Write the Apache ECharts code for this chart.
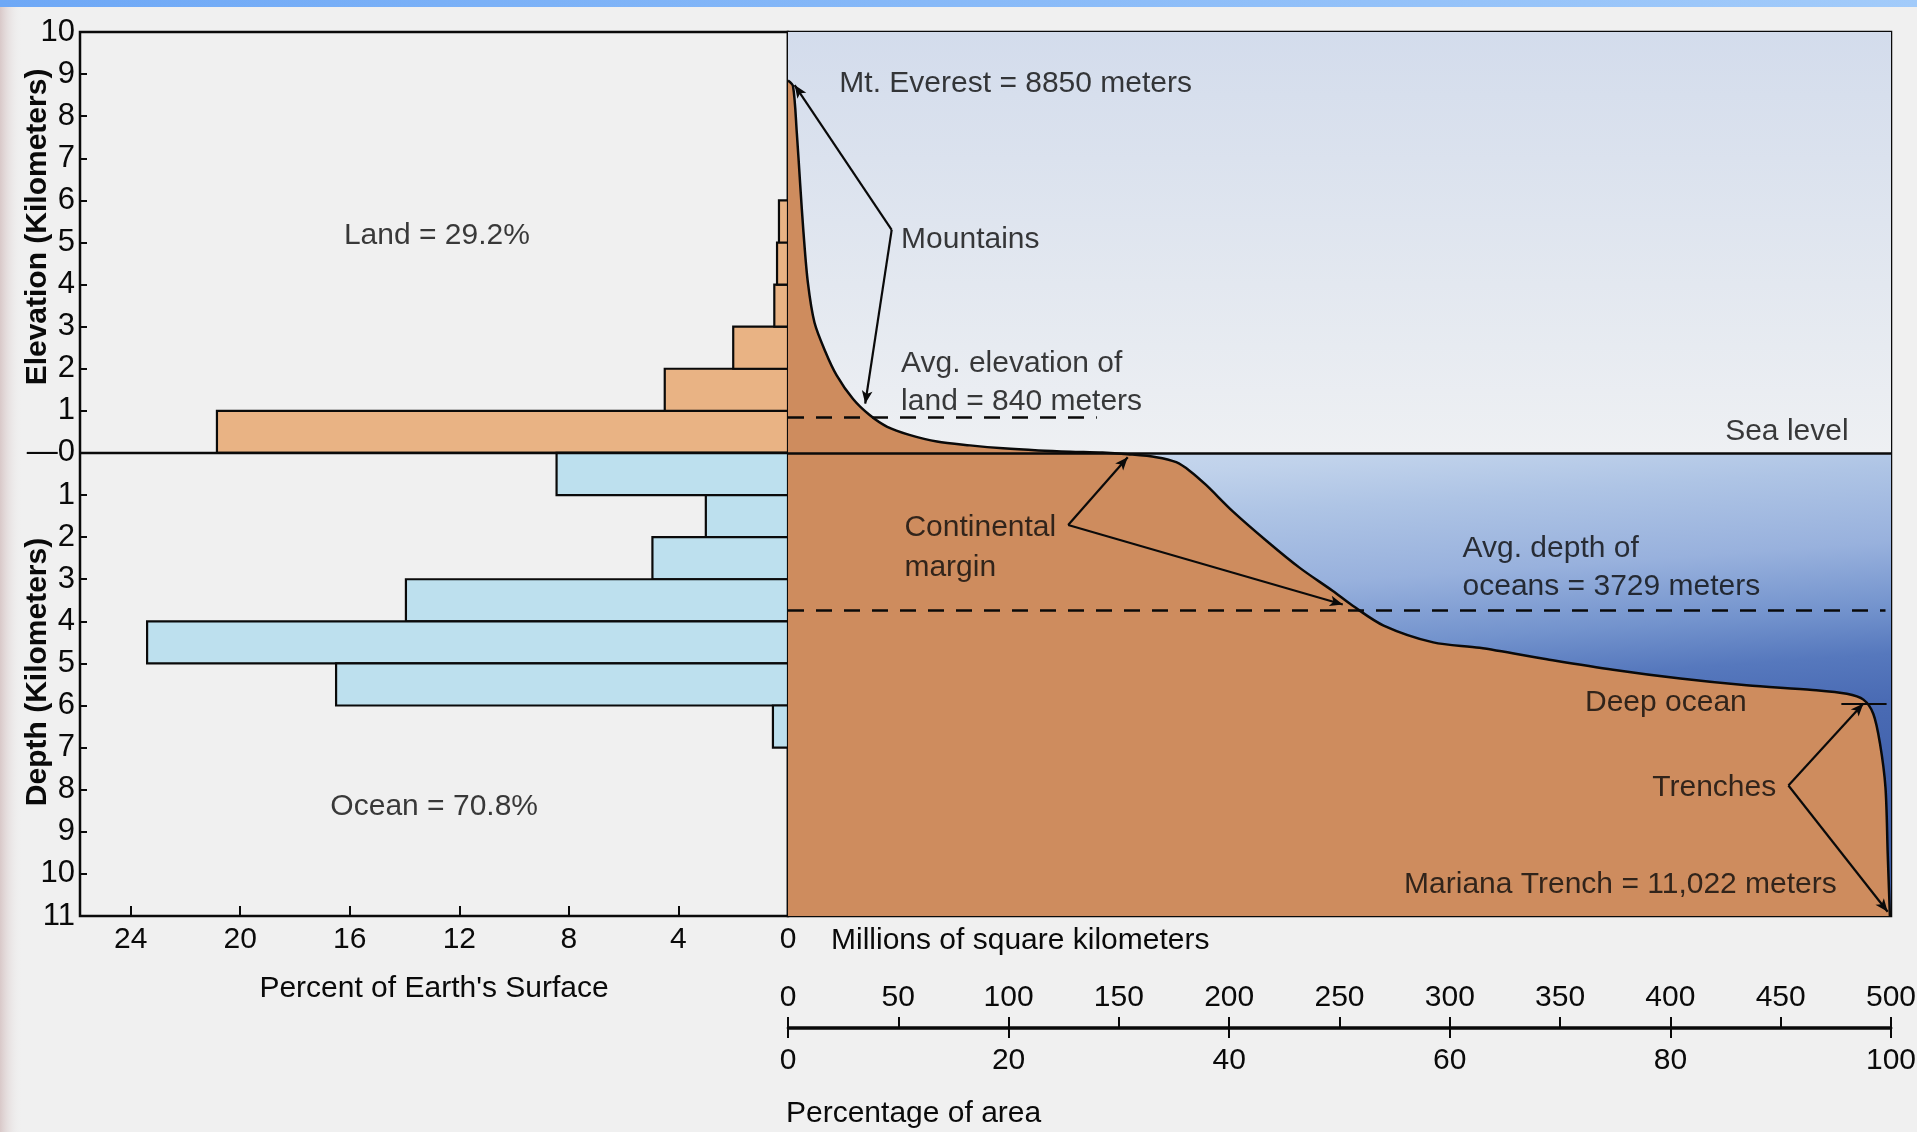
<!DOCTYPE html>
<html>
<head>
<meta charset="utf-8">
<title>Hypsographic curve</title>
<script src="https://cdn.jsdelivr.net/npm/echarts@6.0.0/dist/echarts.min.js"></script>
<style>
  html, body { margin: 0; padding: 0; background: #f0f0f0; }
  #container { width: 1917px; height: 1132px; }
</style>
</head>
<body>
<div id="container"></div>
<script>
  // left histogram: percent of Earth's surface in each 1 km band
  const landBandLow = [0, 1, 2, 3, 4, 5];
  const landPercent = [20.85, 4.5, 2.0, 0.5, 0.4, 0.33];
  const oceanBandLow = [-1, -2, -3, -4, -5, -6, -7];
  const oceanPercent = [8.45, 3.0, 4.95, 13.95, 23.4, 16.5, 0.55];

  // hypsographic curve (percentage of area, km)
  const curvePct = [0, 0.45, 0.8, 1.1, 1.4, 1.8, 2.4, 3.4, 4.4, 5.9, 7.4, 9.0, 11.0, 13.5, 16.5, 19.5, 22.7, 25.6, 28.5, 30.8,
    33.4, 35.2, 36.4, 37.9, 40.3, 43.4, 46.4, 49.4, 51.2, 54.0, 58.5, 62.7, 68.8, 74.8, 80.9, 86.9, 92.9, 96.0, 97.5, 98.4,
    99.0, 99.5, 99.7, 99.9];
  const curveKm = [8.85, 8.72, 7.6, 6.4, 5.25, 4.05, 3.1, 2.4, 1.85, 1.28, 0.9, 0.62, 0.43, 0.27, 0.18, 0.11, 0.06, 0.03, 0.01, -0.03,
    -0.1, -0.22, -0.42, -0.76, -1.38, -2.09, -2.73, -3.28, -3.63, -4.1, -4.5, -4.63, -4.9, -5.15, -5.36, -5.52, -5.63, -5.72, -5.86, -6.2,
    -6.9, -7.95, -9.5, -11.0];

  const avgElevation = 0.84;   // km
  const avgDepth = -3.729;     // km
  const areaTicks = [0, 500];  // millions of km2 scale
  const pctTicks = [0, 100];

  // text notes on the curve panel: [text, x %, y km, align]
  const notes = [
    ['Mt. Everest = 8850 meters', 4.7, 8.75, 'left'],
    ['Mountains', 10.3, 5.06, 'left'],
    ['Avg. elevation of', 10.3, 2.11, 'left'],
    ['land = 840 meters', 10.3, 1.21, 'left'],
    ['Sea level', 96.2, 0.5, 'right'],
    ['Continental', 10.6, -1.8, 'left'],
    ['margin', 10.6, -2.73, 'left'],
    ['Avg. depth of', 61.2, -2.28, 'left'],
    ['oceans = 3729 meters', 61.2, -3.2, 'left'],
    ['Deep ocean', 72.3, -5.95, 'left'],
    ['Trenches', 78.4, -7.97, 'left'],
    ['Mariana Trench = 11,022 meters', 55.9, -10.27, 'left']
  ];
  // pointer lines: [from, to]
  const pointers = [
    [[9.4, 5.3], [0.6, 8.74]],
    [[9.4, 5.3], [7.0, 1.17]],
    [[25.4, -1.71], [30.8, -0.1]],
    [[25.4, -1.71], [50.3, -3.6]],
    [[90.7, -7.9], [97.5, -5.95]],
    [[90.7, -7.9], [99.7, -10.9]]
  ];

  const FONT = '"Liberation Sans", Arial, sans-serif';
  const INK = '#0a0a0a';
  const LEFT_MAX = 25.85;

  let chart = echarts.init(document.getElementById('container'));

  function bandRect(fill) {
    return function (params, api) {
      let a = api.coord([0, api.value(2)]);
      let b = api.coord([api.value(0), api.value(1)]);
      return {
        type: 'rect',
        shape: {
          x: Math.min(a[0], b[0]), y: Math.min(a[1], b[1]),
          width: Math.abs(a[0] - b[0]), height: Math.abs(a[1] - b[1])
        },
        style: { fill: fill, stroke: INK, lineWidth: 2.2 }
      };
    };
  }

  let curveData = curvePct.map((p, i) => [p, curveKm[i]]);
  let landData = landBandLow.map((lo, i) => [landPercent[i], lo, lo + 1]);
  let oceanData = oceanBandLow.map((lo, i) => [oceanPercent[i], lo, lo + 1]);

  let pointerLines = pointers.map(p => [{ coord: p[0] }, { coord: p[1] }]);

  let option = {
    animation: false,
    backgroundColor: '#f0f0f0',
    textStyle: { fontFamily: FONT },
    grid: [
      { left: 80, top: 32, width: 708, height: 884, show: true, borderColor: INK, borderWidth: 2.5,
        backgroundColor: 'transparent', outerBoundsMode: 'none' },
      { left: 788, top: 32, width: 1103, height: 884, show: true, borderColor: INK, borderWidth: 2.5,
        backgroundColor: 'transparent', outerBoundsMode: 'none' },
      { left: 788, top: 1027, width: 1103, height: 1, outerBoundsMode: 'none' }
    ],
    xAxis: [
      {
        gridIndex: 0, type: 'value', min: 0, max: LEFT_MAX, interval: 4, inverse: true, position: 'bottom',
        name: "Percent of Earth's Surface", nameLocation: 'middle', nameGap: 58,
        nameTextStyle: { fontFamily: FONT, fontSize: 30, color: INK },
        axisLine: { show: false, onZero: false },
        axisTick: { inside: true, length: 10, lineStyle: { color: INK, width: 2 } },
        axisLabel: { showMaxLabel: false, margin: 9, fontFamily: FONT, fontSize: 30, color: INK },
        splitLine: { show: false }
      },
      {
        gridIndex: 1, type: 'value', min: 0, max: 100, position: 'bottom',
        axisLine: { show: false, onZero: false }, axisTick: { show: false }, axisLabel: { show: false },
        splitLine: { show: false }
      },
      {
        gridIndex: 2, type: 'value', min: areaTicks[0], max: areaTicks[1], interval: 50, position: 'top',
        axisLine: { show: true, onZero: false, lineStyle: { color: INK, width: 2.5 } },
        axisTick: { length: 10, lineStyle: { color: INK, width: 2 } },
        axisLabel: { margin: 14, fontFamily: FONT, fontSize: 30, color: INK },
        splitLine: { show: false }
      },
      {
        gridIndex: 2, type: 'value', min: pctTicks[0], max: pctTicks[1], interval: 20, position: 'bottom',
        axisLine: { show: true, onZero: false, lineStyle: { color: INK, width: 2.5 } },
        axisTick: { length: 10, lineStyle: { color: INK, width: 2 } },
        axisLabel: { margin: 18, fontFamily: FONT, fontSize: 30, color: INK },
        splitLine: { show: false }
      }
    ],
    yAxis: [
      {
        gridIndex: 0, type: 'value', min: -11, max: 10, interval: 1, position: 'left',
        axisLine: { show: false, onZero: false },
        axisTick: { inside: true, length: 7, lineStyle: { color: INK, width: 2 } },
        axisLabel: {
          margin: 5, fontFamily: FONT, fontSize: 31, color: INK,
          formatter: v => (v === 0 ? '\u20140' : String(Math.abs(v)))
        },
        splitLine: { show: false }
      },
      {
        gridIndex: 1, type: 'value', min: -11, max: 10, interval: 1, position: 'left',
        axisLine: { show: false, onZero: false },
        axisTick: { inside: true, length: 8, lineStyle: { color: INK, width: 2 } },
        axisLabel: { show: false },
        splitLine: { show: false }
      },
      {
        gridIndex: 2, type: 'value', min: 0, max: 1, show: false,
        axisLine: { show: false, onZero: false }, splitLine: { show: false }
      }
    ],
    series: [
      {
        name: 'land', type: 'custom', xAxisIndex: 0, yAxisIndex: 0,
        renderItem: bandRect('#e9b384'), encode: { x: 0, y: [1, 2] }, data: landData, silent: true
      },
      {
        name: 'ocean', type: 'custom', xAxisIndex: 0, yAxisIndex: 0,
        renderItem: bandRect('#bde0ee'), encode: { x: 0, y: [1, 2] }, data: oceanData, silent: true
      },
      {
        name: 'sea level left', type: 'line', xAxisIndex: 0, yAxisIndex: 0, z: 4,
        data: [[0, 0], [LEFT_MAX, 0]], showSymbol: false, silent: true,
        lineStyle: { color: INK, width: 2.5 }
      },
      {
        name: 'left notes', type: 'scatter', xAxisIndex: 0, yAxisIndex: 0,
        symbolSize: 1, itemStyle: { color: 'rgba(0,0,0,0)' }, silent: true,
        data: [
          { value: [12.8, 5.15], name: 'Land = 29.2%' },
          { value: [12.9, -8.41], name: 'Ocean = 70.8%' }
        ],
        label: {
          show: true, position: [0, 0], align: 'center', verticalAlign: 'middle',
          formatter: p => p.name, fontFamily: FONT, fontSize: 30, color: INK
        }
      },
      {
        name: 'curve', type: 'line', xAxisIndex: 1, yAxisIndex: 1,
        data: curveData, smooth: 0.3, showSymbol: false, silent: true,
        lineStyle: { color: INK, width: 2.5 },
        areaStyle: { color: '#ce8c5e', opacity: 1, origin: 'start' },
        markArea: {
          silent: true,
          data: [
            [{ coord: [0, 10], itemStyle: { color: new echarts.graphic.LinearGradient(0, 0, 0, 1, [
                { offset: 0, color: '#d3dcec' }, { offset: 0.6, color: '#e3e8f0' }, { offset: 1, color: '#eef0f3' }]) } },
             { coord: [100, 0] }],
            [{ coord: [0, 0], itemStyle: { color: new echarts.graphic.LinearGradient(0, 0, 0.03, 1, [
                { offset: 0, color: '#ccdbef' }, { offset: 0.1, color: '#c0d2eb' },
                { offset: 0.2, color: '#aec4e5' }, { offset: 0.36, color: '#98b1dd' },
                { offset: 0.5, color: '#7393cd' }, { offset: 0.6, color: '#5678bd' },
                { offset: 0.7, color: '#4a6bb4' }, { offset: 1, color: '#3a5aa5' }]) } },
             { coord: [100, -11] }]
          ]
        },
        markLine: {
          silent: true, symbol: ['none', 'none'], label: { show: false },
          emphasis: { disabled: true },
          data: [
            [{ coord: [0, 0], lineStyle: { color: INK, width: 2.5, type: 'solid' } }, { coord: [100, 0] }],
            [{ coord: [0, avgElevation], lineStyle: { color: INK, width: 2.5, type: [16, 12] } }, { coord: [28, avgElevation] }],
            [{ coord: [0, avgDepth], lineStyle: { color: INK, width: 2.5, type: [16, 12] } }, { coord: [99.5, avgDepth] }],
            [{ coord: [95.5, -5.95], lineStyle: { color: INK, width: 2, type: 'solid' } }, { coord: [99.6, -5.95] }]
          ]
        }
      },
      {
        name: 'pointers', type: 'line', xAxisIndex: 1, yAxisIndex: 1, data: [], silent: true,
        markLine: {
          silent: true, symbol: ['none', 'arrow'], symbolSize: [8, 13], label: { show: false },
          emphasis: { disabled: true },
          lineStyle: { color: INK, width: 2.2, type: 'solid' },
          data: pointerLines
        }
      },
      {
        name: 'notes', type: 'scatter', xAxisIndex: 1, yAxisIndex: 1,
        symbolSize: 1, itemStyle: { color: 'rgba(0,0,0,0)' }, silent: true, z: 6,
        data: notes.map(n => ({
          value: [n[1], n[2]], name: n[0],
          label: { align: n[3] }
        })),
        label: {
          show: true, position: [0, 0], verticalAlign: 'middle',
          formatter: p => p.name, fontFamily: FONT, fontSize: 30, color: INK
        }
      }
    ],
    graphic: [
      {
        type: 'rect', silent: true, z: 10,
        shape: { x: 0, y: 0, width: 1917, height: 7 },
        style: { fill: new echarts.graphic.LinearGradient(0, 0, 1, 0, [
          { offset: 0, color: '#6ea8f6' }, { offset: 1, color: '#a2cbfa' }]) }
      },
      {
        type: 'rect', silent: true, z: 0,
        shape: { x: 0, y: 0, width: 22, height: 1132 },
        style: { fill: new echarts.graphic.LinearGradient(0, 0, 1, 0, [
          { offset: 0, color: 'rgba(214,196,196,0.9)' }, { offset: 1, color: 'rgba(240,240,240,0)' }]) }
      },
      {
        type: 'text', x: 38, y: 227, rotation: Math.PI / 2, silent: true,
        style: { text: 'Elevation (Kilometers)', font: 'bold 30px ' + FONT, fill: INK,
          textAlign: 'center', textVerticalAlign: 'middle' }
      },
      {
        type: 'text', x: 38, y: 672, rotation: Math.PI / 2, silent: true,
        style: { text: 'Depth (Kilometers)', font: 'bold 30px ' + FONT, fill: INK,
          textAlign: 'center', textVerticalAlign: 'middle' }
      },
      {
        type: 'text', x: 831, y: 941, silent: true,
        style: { text: 'Millions of square kilometers', font: '30px ' + FONT, fill: INK,
          textAlign: 'left', textVerticalAlign: 'middle' }
      },
      {
        type: 'text', x: 786, y: 1114, silent: true,
        style: { text: 'Percentage of area', font: '30px ' + FONT, fill: INK,
          textAlign: 'left', textVerticalAlign: 'middle' }
      }
    ]
  };

  if (option && typeof option === 'object') {
    chart.setOption(option, true);
  }
</script>
</body>
</html>
